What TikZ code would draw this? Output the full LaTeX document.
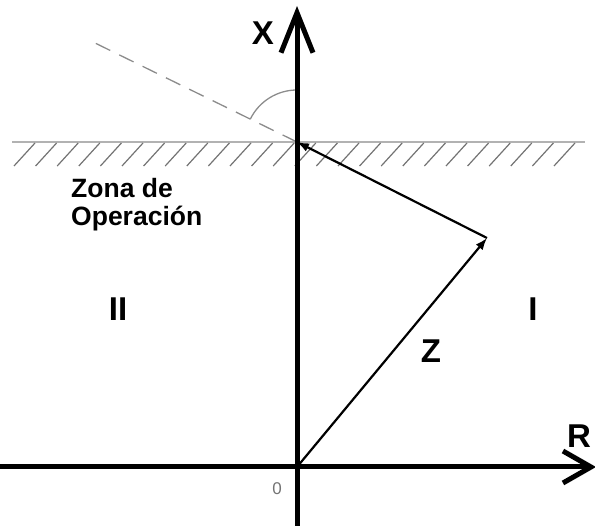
\documentclass[tikz,border=0pt]{standalone}
\usepackage{fontspec}
\setsansfont{Liberation Sans}
\usetikzlibrary{arrows.meta}

\begin{document}
\begin{tikzpicture}[
    x=1pt, y=-1pt,
    font=\sffamily\bfseries,
    axis/.style={line width=5pt, -{Straight Barb[length=#1, width=32pt]}},
    vec/.style={line width=2.2pt, -{Latex[length=12pt, width=9pt]}},
    limit/.style={draw=black!30, line width=2pt},
    hatchmark/.style={draw=black!55, line width=1.2pt},
    biglabel/.style={font=\sffamily\bfseries\fontsize{33}{38}\selectfont},
    zone/.style={font=\sffamily\bfseries\fontsize{26.5}{28.5}\selectfont, align=left},
]
\useasboundingbox (0,0) rectangle (595,526);

% points of the diagram
\coordinate (O) at (297,467);
\coordinate (P) at (487,238);
\coordinate (Q) at (297,142);
\coordinate (xtop) at (297,6);
\coordinate (xbot) at (297,530);
\coordinate (rleft) at (-5,467);
\coordinate (rright) at (596,467);
\coordinate (hl) at (12,142);
\coordinate (hr) at (585,142);
\coordinate (dashend) at (95,43);

% operating limit with hatching
\draw[limit] (hl) -- (hr);
\foreach \i in {0,...,25}
    \draw[hatchmark] (35+21.6*\i,143) -- ++(-21,23);

% dashed line and angle
\draw[black!45, line width=1.3pt, dash pattern=on 16pt off 10pt] (Q) -- (dashend);
\draw[black!45, line width=1.3pt] ([shift={(206:52)}]Q) arc[start angle=206, end angle=270, radius=52];

% axes
\draw[axis=40pt] (xbot) -- (xtop);
\draw[axis=28pt] (rleft) -- (rright);

% impedance
\draw[vec] (O) -- (P);
\draw[vec] (P) -- (Q);

% labels
\node[biglabel] (xlab) at (263,33) {X};
\node[biglabel] (rlab) at (579,436) {R};
\node[biglabel] (zlab) at (431,351) {Z};
\node[biglabel] (one) at (533,309) {I};
\node[biglabel] (two) at (118,309) {II};
\node[zone, anchor=north west, inner sep=0pt] (zona) at (71,178) {Zona de\\Operación};
\node[font=\sffamily\fontsize{17}{19}\selectfont, text=black!55] (zero) at (277,489) {0};
\end{tikzpicture}
\end{document}
